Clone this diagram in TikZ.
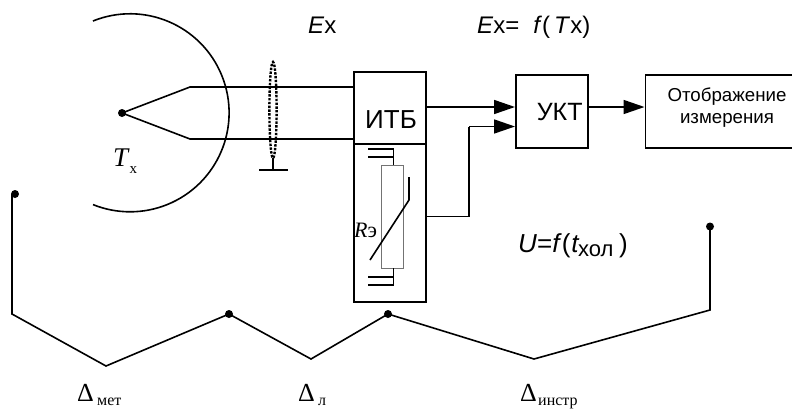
\documentclass[tikz,border=0pt]{standalone}
\usepackage{fontspec}
\setmainfont{Liberation Sans}
\newfontfamily\serifcyr{Liberation Serif}
\usetikzlibrary{arrows.meta,positioning}
\newcommand{\fs}[1]{\fontsize{#1bp}{#1bp}\selectfont}
\tikzset{
  x=1bp,y=-1bp,
  wire/.style={line width=1.6bp,black},
  blockbox/.style={draw=black,line width=1.6bp,minimum width=#1,inner sep=0pt,anchor=north west},
  arrowed/.style={wire,-{Triangle[length=21bp,width=14bp]}},
  dotpt/.style={circle,fill=black,inner sep=0pt,minimum size=8bp},
  sanslabel/.style={inner sep=0pt,anchor=base west,font=\fs{24}},
  deltalabel/.style={inner sep=0pt,anchor=base west,font=\serifcyr\fs{26}},
  subserif/.style={inner sep=0pt,anchor=base west,font=\serifcyr\fs{16}},
}
\begin{document}
\begin{tikzpicture}
\useasboundingbox (0,0) rectangle (792,409);
% nodes
\node[blockbox=72bp,minimum height=72bp] (itb) at (353,71) {};
\node[inner sep=0pt,font=\fs{26},anchor=base] (itbt) at (391,128) {ИТБ};
\node[blockbox=72bp,minimum height=158bp] (comp) at (353,143) {};
\node[blockbox=72bp,minimum height=73bp] (ukt) at (515,74) {};
\node[inner sep=0pt,font=\fs{25},anchor=base] (uktt) at (559.7,120.5) {УКТ};
\node[blockbox=147bp,minimum height=73bp] (disp) at (644.5,74) {};
\node[inner sep=0pt,font=\fs{18.7},anchor=base] (dispa) at (727,101.7) {Отображение};
\node[inner sep=0pt,font=\fs{18.7},anchor=base] (dispb) at (727,123) {измерения};
\node[draw=black!55,line width=1.2bp,inner sep=0pt,minimum width=22bp,minimum height=103bp,anchor=north west] (res) at (381,165) {};
% sensor
\coordinate (arcs) at (93,21);
\draw[wire] (arcs) arc[start angle=112,end angle=-112,x radius=99,y radius=-99];
\node[dotpt] (junc) at (122,113) {};
\coordinate (bendA) at (190,87);
\coordinate (bendB) at (190,139);
\draw[wire] (junc.center) -- (bendA) -- (bendA -| itb.west);
\draw[wire] (junc.center) -- (bendB) -- (bendB -| itb.west);
% shield
\coordinate (shbot) at (273,158);
\coordinate (gnd) at (273,170);
\coordinate (gndL) at (259,170);
\coordinate (gndR) at (288,170);
\draw[line width=2.4bp,dash pattern=on 2.4bp off 1.4bp,black] (273,110) ellipse[x radius=3.6,y radius=48];
\draw[wire] (shbot) -- (gnd);
\draw[wire] (gndL) -- (gndR);
% arrows
\coordinate (ukin1) at (515,107);
\coordinate (ukin2) at (515,126.5);
\coordinate (ukout) at (587,107);
\draw[arrowed] (itb.east |- ukin1) -- (ukin1);
\coordinate (corrout) at (425,216.5);
\coordinate (corrbend) at (469,216.5);
\coordinate (corrbend2) at (469,126.5);
\draw[wire] (corrout) -- (corrbend) -- (corrbend2);
\draw[arrowed] (corrbend2) -- (ukin2);
\draw[arrowed] (ukout) -- (644.5,107);
% thermistor details
\coordinate (ct1) at (368,149);
\coordinate (ct2) at (368,157);
\coordinate (ct3) at (393.5,149);
\coordinate (ct4) at (393.5,157);
\coordinate (cb1) at (368,277);
\coordinate (cb2) at (368,285);
\coordinate (cb3) at (393.5,277);
\coordinate (cb4) at (393.5,285);
\draw[wire] (ct1) -- (ct3) -- (393.5,165);
\draw[wire] (ct2) -- (ct4);
\draw[wire] (cb1) -- (cb3);
\draw[wire] (cb2) -- (cb4) -- (393.5,268);
\coordinate (sl1) at (370,260);
\coordinate (sl2) at (409,200);
\coordinate (sl3) at (409,177);
\draw[wire] (sl1) -- (sl2) -- (sl3);
\node[inner sep=0pt,anchor=base west,font=\serifcyr\fs{22}] (re) at (354,237) {\textit{R}э};
% error chain
\node[dotpt] (p0) at (15,194) {};
\node[dotpt] (p1) at (229,314) {};
\node[dotpt] (p2) at (388,314) {};
\node[dotpt] (p3) at (710,226.5) {};
\coordinate (a0) at (12,194);
\coordinate (a1) at (12,314);
\coordinate (a2) at (106,366);
\coordinate (a3) at (311,359);
\coordinate (a4) at (534,359);
\coordinate (a5) at (710,310);
\draw[wire] (a0) -- (a1) -- (a2) -- (p1.center) -- (a3) -- (p2.center) -- (a4) -- (a5) -- (p3.center);
% labels
\node[sanslabel] (ex) at (308,33.5) {\textit{E}x};
\node[sanslabel] (exf) at (477,33.5) {\textit{E}x=\hspace{14bp}\textit{f}(\hspace{4bp}\textit{T}x)};
\node[sanslabel,font=\fs{26}] (uf) at (518,252) {\textit{U}=\textit{f}(\hspace{1bp}\textit{t}};
\node[inner sep=0pt,anchor=base west,font=\fs{22}] (ufs) at (578,256.7) {хол};
\node[sanslabel,font=\fs{26}] (ufc) at (619,252) {)};
\node[inner sep=0pt,anchor=base west,font=\serifcyr\fs{27}] (tx) at (113,166.7) {\textit{T}};
\node[inner sep=0pt,anchor=base west,font=\serifcyr\fs{15}] (txs) at (129.5,173) {х};
\node[deltalabel] (d1) at (77,401) {Δ};
\node[subserif] (d1s) at (97,405.5) {мет};
\node[deltalabel] (d2) at (298,401) {Δ};
\node[subserif] (d2s) at (318,405.5) {л};
\node[deltalabel] (d3) at (520,401) {Δ};
\node[subserif] (d3s) at (538,405.5) {инстр};
\end{tikzpicture}
\end{document}
